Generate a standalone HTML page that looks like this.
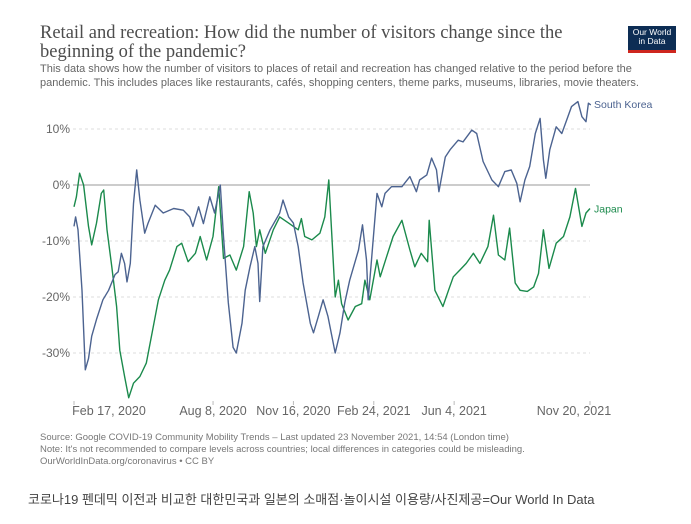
<!DOCTYPE html>
<html><head><meta charset="utf-8"><style>
body{margin:0;background:#fff;width:691px;height:524px;overflow:hidden;position:relative;font-family:"Liberation Sans",sans-serif}
.t{position:absolute;left:40px;top:24px;font-family:"Liberation Serif",serif;font-size:18.5px;line-height:19px;color:#4d4d4d;width:580px}
.s{position:absolute;left:40px;top:63px;font-size:11px;line-height:13.5px;color:#666;width:620px}
.logo{position:absolute;left:628px;top:26px;width:48px;height:27px;background:#0d2d54;color:#fff;font-size:8.5px;line-height:9px;text-align:center;padding-top:2px;box-sizing:border-box}
.logo:after{content:"";position:absolute;left:0;bottom:0;width:100%;height:3px;background:#ce261e}
.f{position:absolute;left:40px;top:432px;font-size:9.5px;line-height:12px;color:#777}
.c{position:absolute;left:28px;top:489px;font-family:"Liberation Sans","Noto Sans CJK KR",sans-serif;font-size:13px;color:#444}
</style></head><body>
<div class="t">Retail and recreation: How did the number of visitors change since the beginning of the pandemic?</div>
<div class="s">This data shows how the number of visitors to places of retail and recreation has changed relative to the period before the pandemic. This includes places like restaurants, cafés, shopping centers, theme parks, museums, libraries, movie theaters.</div>
<div class="logo">Our World<br>in Data</div>
<svg id="ch" width="691" height="524" style="position:absolute;left:0;top:0"></svg>
<div class="f">Source: Google COVID-19 Community Mobility Trends – Last updated 23 November 2021, 14:54 (London time)<br>Note: It's not recommended to compare levels across countries; local differences in categories could be misleading.<br>OurWorldInData.org/coronavirus • CC BY</div>
<div class="c">코로나19 펜데믹 이전과 비교한 대한민국과 일본의 소매점·놀이시설 이용량/사진제공=Our World In Data</div>
<script>
const yTicks=[10,0,-10,-20,-30];
const xTickDays=[0,173,273,373,473,642];
const xTickLabels=["Feb 17, 2020","Aug 8, 2020","Nov 16, 2020","Feb 24, 2021","Jun 4, 2021","Nov 20, 2021"];
const krDays=[0,2,5,10,14,18,22,28,36,43,51,55,59,63,66,70,74,78,82,88,92,101,111,124,136,144,148,155,161,169,175,182,186,192,198,202,209,213,219,225,229,231,235,244,256,260,267,273,279,285,294,298,304,310,316,325,331,337,343,354,359,364,366,377,383,387,395,408,418,426,430,439,445,451,454,462,468,478,484,495,501,509,520,528,536,544,551,555,561,567,574,580,584,587,592,600,607,613,619,627,632,637,640,643];
const krVals=[-7.4,-5.7,-8,-18.8,-33,-31,-27,-24,-20.5,-18.8,-16,-15.5,-12.2,-14,-17.3,-14,-3.3,2.7,-2.7,-8.6,-6.9,-3.6,-5,-4.2,-4.5,-5.7,-7.4,-3.9,-6.9,-2.1,-5,0,-9.2,-21,-29,-30,-24.7,-18.8,-14.6,-11,-14,-20.8,-11,-8,-5,-2.7,-5.7,-6.8,-11,-17.5,-24.7,-26.4,-23.5,-20.5,-23.5,-30,-26.4,-21,-17,-11.6,-7.1,-13.4,-20.5,-1.5,-3.9,-1.5,-0.3,-0.3,1.5,-1.2,0.9,1.8,4.8,2.7,-1.2,5,6.3,8,7.7,9.8,9.2,4.2,0.9,-0.3,2.4,2.7,0.3,-3,0.9,3.3,9.2,11.9,4.5,1.2,6.3,10.4,9.2,11.6,14,14.9,12.2,11.3,14.6,14.3];
const jpDays=[0,3,7,12,18,22,28,34,37,41,47,53,57,63,68,74,82,90,97,105,113,119,128,134,142,151,157,165,173,180,186,194,202,211,218,223,227,231,238,248,256,267,279,283,287,296,306,312,317,325,329,333,341,350,358,362,368,377,381,389,397,408,418,424,432,440,442,449,459,466,472,480,488,497,505,515,522,528,536,542,549,555,564,572,578,584,591,600,609,617,624,632,637,642];
const jpVals=[-3.9,-2.1,2.1,0,-7.4,-10.7,-6.8,-1.5,-0.9,-8,-14.6,-21.7,-29.5,-34.2,-38,-35.4,-34.2,-31.8,-26.5,-20.5,-17,-15.2,-11,-10.4,-13.7,-12.2,-9.2,-13.4,-9.2,-0.3,-13.1,-12.5,-15.2,-11,-1.2,-5,-11,-8,-12.2,-8,-5.7,-6.8,-8,-6,-9.2,-9.8,-8.6,-5.7,0.9,-20,-17,-21.2,-24.1,-21.7,-21.2,-17,-20.5,-13.4,-16.4,-12.8,-9.2,-6.3,-11.6,-14.6,-12.2,-13.7,-6.3,-18.8,-21.7,-18.8,-16.4,-15.2,-14,-12.2,-14,-11,-5.4,-12.5,-13.4,-7.7,-17.5,-18.8,-19,-18.2,-15.8,-8,-14.9,-10.4,-9.2,-5.7,-0.6,-7.4,-5,-4.2];
const NS="http://www.w3.org/2000/svg",svg=document.getElementById('ch');
const X=d=>74+d*0.8037, Y=v=>185-v*5.6;
function mk(t,a){const e=document.createElementNS(NS,t);for(const k in a)e.setAttribute(k,a[k]);svg.appendChild(e);return e;}
yTicks.forEach(v=>{
 const l=mk('line',{x1:73,x2:590,y1:Y(v),y2:Y(v),stroke:v===0?'#999':'#ddd','stroke-dasharray':v===0?'':'3,3','stroke-width':1});
 
 
 const t=mk('text',{x:70,y:Y(v)+4,'text-anchor':'end','font-size':12,fill:'#666'});t.textContent=v+'%';
 
 
});
xTickDays.forEach((d,i)=>{
 const l=mk('line',{x1:X(d),x2:X(d),y1:401,y2:405,stroke:'#bbb'});
 
 
 const t=mk('text',{x:X(d)+(i==0?35:i==5?-16:0),y:415,'text-anchor':'middle','font-size':12.5,fill:'#666'});t.textContent=xTickLabels[i];
 
 
});
function series(days,vals,col,name,label,ly){
 const p=mk('path',{d:days.map((d,i)=>(i?'L':'M')+X(d).toFixed(1)+','+Y(vals[i]).toFixed(1)).join(''),fill:'none',stroke:col,'stroke-width':1.4,'stroke-linejoin':'round'});
 
 
 const t=mk('text',{x:594,y:Y(vals[vals.length-1])+ly,'font-size':10.5,fill:col});t.textContent=label;
 
 
}
series(jpDays,jpVals,'#1b8a4c','japan','Japan',4);
series(krDays,krVals,'#4c6390','south-korea','South Korea',3);
</script>
</body></html>
